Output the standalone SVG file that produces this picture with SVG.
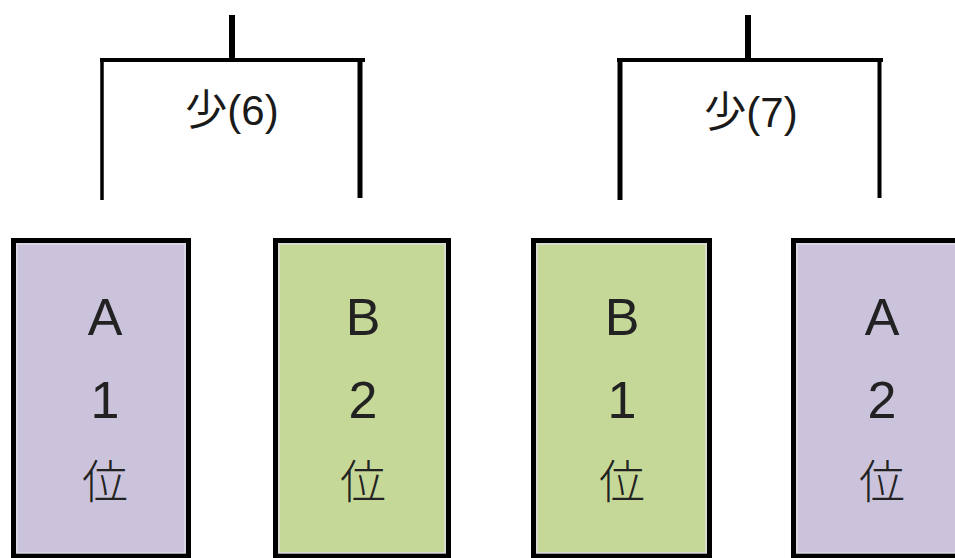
<svg xmlns="http://www.w3.org/2000/svg" width="955" height="558" viewBox="0 0 955 558">
<style>
.ln{stroke:#000;fill:none;stroke-linecap:butt}
.box{stroke:#000;stroke-width:5}
.inner{fill:none;stroke:#e0dde6;stroke-width:2;opacity:.7}
.purple{fill:#cbc2dc}
.green{fill:#c6d898}
.lbl{font-family:"Liberation Sans","Noto Sans CJK JP",sans-serif;font-size:42px;fill:#1a1a1a;text-anchor:middle}
.t{font-family:"Liberation Sans","Noto Sans CJK JP",sans-serif;font-size:52px;fill:#222;text-anchor:middle;font-weight:300}
.c{font-family:"Noto Sans CJK JP",sans-serif;font-size:46px;fill:#222;text-anchor:middle;font-weight:300}
</style>
<rect width="955" height="558" fill="#fff"/>
<g id="connectors">
<line class="ln" x1="232" y1="15" x2="232" y2="60" stroke-width="6"/>
<line class="ln" x1="100" y1="60" x2="365" y2="60" stroke-width="4"/>
<line class="ln" x1="102" y1="58" x2="102" y2="200" stroke-width="3.5"/>
<line class="ln" x1="360" y1="58" x2="360" y2="198" stroke-width="5"/>
<line class="ln" x1="748" y1="15" x2="748" y2="60" stroke-width="6"/>
<line class="ln" x1="617" y1="60" x2="883" y2="60" stroke-width="4"/>
<line class="ln" x1="620" y1="58" x2="620" y2="200" stroke-width="5"/>
<line class="ln" x1="879.5" y1="58" x2="879.5" y2="198" stroke-width="4"/>
</g>
<g id="label-6"><text class="lbl" x="232" y="125">少(6)</text></g>
<g id="label-7"><text class="lbl" x="751" y="127" font-size="44">少(7)</text></g>
<g id="box-A1">
<rect class="box purple" x="13.5" y="240.5" width="175" height="315"/>
<rect class="inner" x="17" y="244" width="168" height="309"/>
<text class="t" x="105" y="335">A</text>
<text class="t" x="105" y="418">1</text>
<text class="c" x="105" y="498">位</text>
</g>
<g id="box-B2">
<rect class="box green" x="275.5" y="240.5" width="173" height="315"/>
<rect class="inner" x="279" y="244" width="166" height="309"/>
<text class="t" x="363" y="335">B</text>
<text class="t" x="363" y="418">2</text>
<text class="c" x="363" y="498">位</text>
</g>
<g id="box-B1">
<rect class="box green" x="533.5" y="240.5" width="176" height="315"/>
<rect class="inner" x="537" y="244" width="169" height="309"/>
<text class="t" x="622" y="335">B</text>
<text class="t" x="622" y="418">1</text>
<text class="c" x="622" y="498">位</text>
</g>
<g id="box-A2">
<rect class="box purple" x="793.5" y="240.5" width="180" height="315"/>
<rect class="inner" x="797" y="244" width="180" height="309"/>
<text class="t" x="882" y="335">A</text>
<text class="t" x="882" y="418">2</text>
<text class="c" x="882" y="498">位</text>
</g>
</svg>
